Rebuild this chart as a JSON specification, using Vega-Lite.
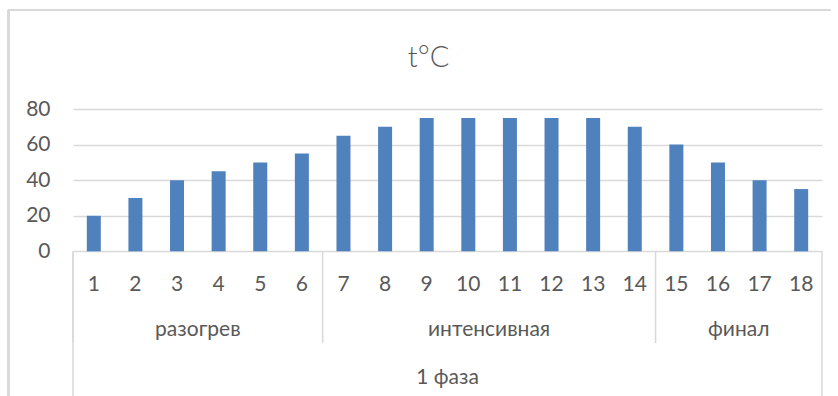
{
  "$schema": "https://vega.github.io/schema/vega-lite/v6.json",
  "autosize": {"type": "none"},
  "padding": {"left": 73, "top": 109, "right": 16, "bottom": 0},
  "width": 749,
  "height": 287,
  "background": "white",
  "title": {
    "text": "t°C",
    "font": "Lato",
    "fontSize": 29,
    "fontWeight": 300,
    "color": "#595959",
    "anchor": "middle",
    "frame": "group",
    "offset": -64,
    "dx": -19
  },
  "config": {
    "view": {"stroke": null},
    "font": "Lato",
    "text": {"font": "Lato", "fontSize": 21, "color": "#595959", "baseline": "middle", "align": "center"}
  },
  "data": {
    "values": [
      {"n": 1, "t": 20, "group": "разогрев", "phase": "1 фаза"},
      {"n": 2, "t": 30, "group": "разогрев", "phase": "1 фаза"},
      {"n": 3, "t": 40, "group": "разогрев", "phase": "1 фаза"},
      {"n": 4, "t": 45, "group": "разогрев", "phase": "1 фаза"},
      {"n": 5, "t": 50, "group": "разогрев", "phase": "1 фаза"},
      {"n": 6, "t": 55, "group": "разогрев", "phase": "1 фаза"},
      {"n": 7, "t": 65, "group": "интенсивная", "phase": "1 фаза"},
      {"n": 8, "t": 70, "group": "интенсивная", "phase": "1 фаза"},
      {"n": 9, "t": 75, "group": "интенсивная", "phase": "1 фаза"},
      {"n": 10, "t": 75, "group": "интенсивная", "phase": "1 фаза"},
      {"n": 11, "t": 75, "group": "интенсивная", "phase": "1 фаза"},
      {"n": 12, "t": 75, "group": "интенсивная", "phase": "1 фаза"},
      {"n": 13, "t": 75, "group": "интенсивная", "phase": "1 фаза"},
      {"n": 14, "t": 70, "group": "интенсивная", "phase": "1 фаза"},
      {"n": 15, "t": 60, "group": "финал", "phase": "1 фаза"},
      {"n": 16, "t": 50, "group": "финал", "phase": "1 фаза"},
      {"n": 17, "t": 40, "group": "финал", "phase": "1 фаза"},
      {"n": 18, "t": 35, "group": "финал", "phase": "1 фаза"}
    ]
  },
  "layer": [
    {
      "mark": {"type": "bar", "width": 14, "color": "#4f81bd", "orient": "vertical"},
      "encoding": {
        "x": {"field": "n", "type": "quantitative", "scale": {"domain": [0.5, 18.5], "nice": false, "zero": false, "padding": 0}, "axis": null},
        "y": {
          "field": "t", "type": "quantitative",
          "scale": {"domain": [-81.3, 80], "nice": false, "zero": false, "padding": 0},
          "axis": {
            "values": [0, 20, 40, 60, 80],
            "grid": true, "gridColor": "#d9d9d9", "gridWidth": 1.5,
            "domain": false, "ticks": false,
            "labelFont": "Lato", "labelFontSize": 21, "labelColor": "#595959",
            "labelPadding": 23, "title": null
          }
        }
      }
    },
    {
      "mark": {"type": "text"},
      "encoding": {
        "x": {"field": "n", "type": "quantitative"},
        "y": {"datum": -18.9, "type": "quantitative"},
        "text": {"field": "n", "type": "nominal"}
      }
    },
    {
      "transform": [{"aggregate": [{"op": "mean", "field": "n", "as": "mid"}], "groupby": ["group"]}],
      "mark": {"type": "text"},
      "encoding": {
        "x": {"field": "mid", "type": "quantitative"},
        "y": {"datum": -44.2, "type": "quantitative"},
        "text": {"field": "group", "type": "nominal"}
      }
    },
    {
      "transform": [{"aggregate": [{"op": "mean", "field": "n", "as": "mid"}], "groupby": ["phase"]}],
      "mark": {"type": "text"},
      "encoding": {
        "x": {"field": "mid", "type": "quantitative"},
        "y": {"datum": -71.2, "type": "quantitative"},
        "text": {"field": "phase", "type": "nominal"}
      }
    },
    {
      "transform": [{"aggregate": [{"op": "min", "field": "n", "as": "first"}], "groupby": ["group"]}],
      "mark": {"type": "rule", "color": "#d9d9d9", "strokeWidth": 1.5, "xOffset": -20.8},
      "encoding": {
        "x": {"field": "first", "type": "quantitative"},
        "y": {"datum": 0, "type": "quantitative"},
        "y2": {"datum": -51.5}
      }
    },
    {
      "transform": [{"aggregate": [{"op": "min", "field": "n", "as": "first"}], "groupby": ["phase"]}],
      "mark": {"type": "rule", "color": "#d9d9d9", "strokeWidth": 1.5, "xOffset": -20.8},
      "encoding": {
        "x": {"field": "first", "type": "quantitative"},
        "y": {"datum": 0, "type": "quantitative"},
        "y2": {"datum": -81.3}
      }
    },
    {
      "transform": [{"aggregate": [{"op": "max", "field": "n", "as": "last"}], "groupby": ["phase"]}],
      "mark": {"type": "rule", "color": "#d9d9d9", "strokeWidth": 1.5, "xOffset": 20.8},
      "encoding": {
        "x": {"field": "last", "type": "quantitative"},
        "y": {"datum": 0, "type": "quantitative"},
        "y2": {"datum": -81.3}
      }
    },
    {
      "mark": {"type": "rule", "color": "#d9d9d9", "strokeWidth": 2, "clip": false},
      "encoding": {
        "x": {"datum": -1.043, "type": "quantitative"},
        "y": {"datum": 135.6, "type": "quantitative"},
        "y2": {"datum": -81.3}
      }
    },
    {
      "mark": {"type": "rule", "color": "#d9d9d9", "strokeWidth": 2, "clip": false},
      "encoding": {
        "x": {"datum": -1.043, "type": "quantitative"},
        "x2": {"datum": 18.7},
        "y": {"datum": 135.6, "type": "quantitative"}
      }
    }
  ]
}
